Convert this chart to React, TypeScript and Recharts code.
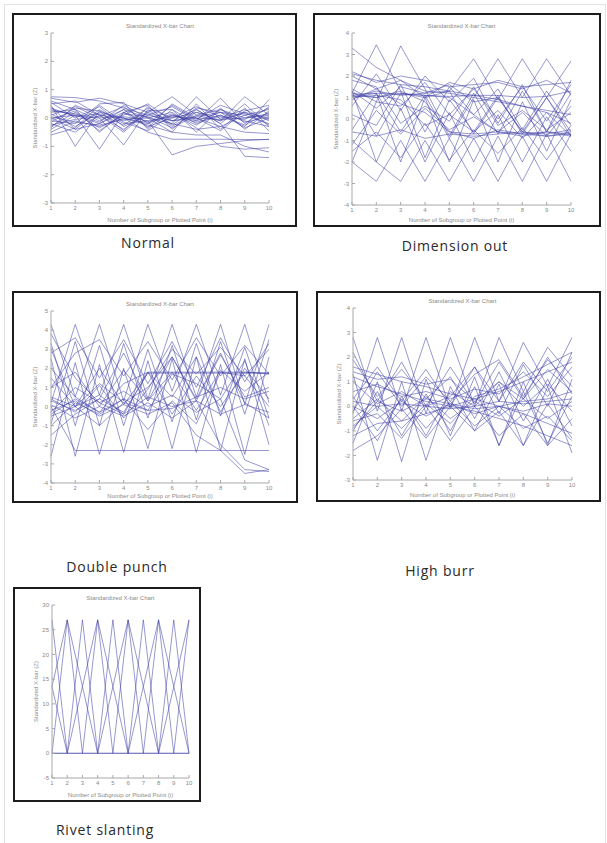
import { LineChart, Line, XAxis, YAxis } from "recharts";

// subgroup numbers on the x axis, shared by every panel
const SUBGROUPS = [1, 2, 3, 4, 5, 6, 7, 8, 9, 10];

const NORMAL_TICKS = [-3, -2, -1, 0, 1, 2, 3];
const normalSeries: number[][] = [
  [0.75, 0.72, 0.6, 0.35, 0.1, -0.1, 0.05, 0.2, 0.1, 0.3],
  [0.7, 0.55, 0.7, 0.5, 0.2, 0.75, 0.1, 0.3, 0.0, 0.15],
  [0.45, -1.0, 0.25, -0.1, 0.15, -0.2, 0.75, -0.05, 0.2, 0.0],
  [0.3, 0.1, -1.1, 0.2, -0.15, 0.1, -0.1, 0.7, -0.2, 0.4],
  [0.1, 0.4, 0.0, -0.95, 0.3, -0.3, 0.2, -0.1, 0.75, 0.1],
  [-0.1, -0.2, 0.5, 0.55, -0.4, 0.3, -0.2, 0.1, -0.3, 0.65],
  [-0.3, 0.2, -0.35, 0.1, 0.5, -0.1, 0.0, -0.3, 0.1, -0.2],
  [0.0, -0.4, 0.3, -0.2, -0.1, -1.3, -1.0, -0.9, -0.8, -0.75],
  [-0.5, -0.1, -0.3, 0.0, -0.5, -0.75, -0.75, -0.75, -0.76, -0.76],
  [0.2, 0.3, -0.1, 0.3, 0.0, 0.2, -0.35, -1.0, -1.1, -1.05],
  [-0.2, -0.5, 0.1, -0.4, 0.2, -0.1, 0.3, -0.2, -1.35, -1.4],
  [0.55, 0.0, 0.4, -0.3, 0.1, 0.4, -0.1, 0.2, -0.1, -0.3],
  [-0.4, 0.1, -0.2, 0.2, -0.3, 0.0, 0.2, 0.0, 0.3, -0.1],
  [0.15, -0.3, 0.2, 0.0, -0.2, 0.15, -0.25, 0.3, -0.15, 0.05],
  [-0.05, 0.25, -0.45, 0.15, 0.05, -0.35, 0.1, -0.1, 0.2, -0.25],
  [0.35, 0.05, 0.15, -0.25, 0.35, 0.0, 0.4, 0.05, -0.05, 0.35],
  [-0.25, -0.05, 0.05, 0.4, -0.2, 0.45, -0.05, 0.45, 0.15, -0.05],
  [0.05, -0.15, -0.25, -0.05, 0.0, -0.2, -0.4, -0.3, -0.5, -0.55],
  [-0.6, -0.35, 0.45, -0.15, -0.45, 0.1, -0.15, 0.1, -0.25, 0.2],
  [0.25, 0.15, -0.15, 0.45, 0.0, -0.5, 0.5, -0.4, 0.35, -0.45],
  [0.6, 0.3, -0.5, 0.2, 0.45, -0.4, 0.3, -0.2, 0.5, -0.3],
  [-0.35, 0.45, 0.1, -0.5, 0.25, 0.3, -0.5, 0.35, -0.4, 0.25],
  [0.0, 0.1, 0.0, 0.05, -0.1, 0.05, 0.0, -0.05, 0.0, 0.1],
  [0.4, -0.4, -0.2, 0.3, -0.35, 0.5, 0.0, -0.45, 0.25, 0.45],
  [-0.15, 0.35, 0.25, -0.45, 0.4, -0.25, 0.35, 0.2, -0.35, 0.0],
  [0.5, 0.6, 0.1, 0.0, -0.25, -0.5, -0.6, -0.6, -1.0, -1.2],
];

const DIMENSION_TICKS = [-4, -3, -2, -1, 0, 1, 2, 3, 4];
const dimensionSeries: number[][] = [
  [3.3, 2.4, 1.8, 1.3, 1.2, 1.0, 0.8, 0.6, 0.4, 0.2],
  [1.2, 3.45, 1.3, -1.8, 0.9, -0.6, 1.1, -0.7, 1.0, -0.8],
  [-2.0, 0.8, 3.4, 1.4, -0.8, 1.2, -0.7, 1.3, -0.6, 1.2],
  [1.1, -0.8, 1.2, 1.0, 1.3, 2.8, 0.9, 2.8, 1.0, 2.7],
  [1.0, 1.2, -0.6, 1.1, -0.9, 1.0, 2.8, 1.0, 2.8, 1.1],
  [-2.0, -2.9, -1.0, -2.9, -0.9, -2.9, -0.8, -2.9, -0.7, -2.9],
  [-1.0, -2.0, -2.9, -1.0, -2.9, -0.9, -2.9, -0.8, -2.9, -0.7],
  [1.3, -2.0, 0.5, -2.0, 0.3, -2.0, 0.2, -2.0, 0.1, -1.5],
  [-0.5, 1.2, -2.0, 1.0, -2.0, 0.9, -2.0, 0.8, -1.5, 0.9],
  [1.2, 1.0, 1.3, 0.8, -0.6, -0.7, -0.6, -0.8, -0.6, -0.7],
  [1.0, 1.3, 1.1, 1.2, 1.3, -0.7, 1.0, -0.6, 1.0, -0.6],
  [2.0, 1.4, 1.8, 1.0, 1.7, 1.4, 1.8, 1.5, 1.6, 1.7],
  [2.1, 1.8, 1.6, 1.5, 1.3, 1.1, 0.9, 0.6, 0.3, -0.2],
  [1.8, 1.5, -0.2, 0.6, -0.1, 1.5, -0.3, 0.4, -0.5, 0.3],
  [0.2, -0.3, 1.6, -0.6, 1.5, 0.2, 1.4, -0.5, 1.3, -0.3],
  [-1.2, 0.4, -0.7, 0.5, -0.5, 0.1, -0.6, 0.3, -0.8, 0.6],
  [1.4, 0.8, 0.6, 1.7, 0.2, 1.4, 0.0, 1.5, -0.1, 1.6],
  [-0.6, -0.8, -0.5, -0.9, -0.7, -0.8, -0.7, -0.6, -0.8, -0.7],
  [1.15, 1.2, 1.15, 1.1, 1.05, 1.1, 1.1, 1.0, 1.05, 1.3],
  [0.6, 2.1, 0.4, 2.0, 0.8, 1.9, -0.2, 1.6, -0.6, 1.8],
  [1.1, 1.0, 1.2, 1.1, 1.0, 0.2, -0.6, -0.7, -0.8, -0.6],
  [0.9, 1.4, 0.7, 0.3, -0.6, -0.9, -0.5, -0.7, -0.6, -0.8],
  [1.3, 0.5, 1.5, 1.2, 1.6, 0.8, 1.0, -0.6, -0.7, -0.5],
  [-1.5, -0.6, -1.8, -0.2, -1.9, -0.5, -1.6, -0.4, -1.9, -0.3],
  [2.2, 1.7, 2.0, 1.8, 1.5, 1.6, 1.7, 1.4, 1.8, 1.2],
  [1.0, 1.1, 0.9, -0.3, 0.2, -0.6, 0.4, -0.9, 0.3, -0.8],
];

const PUNCH_TICKS = [-4, -3, -2, -1, 0, 1, 2, 3, 4, 5];
const punchSeries: number[][] = [
  [4.3, 0.5, 4.3, 0.3, 4.3, 0.8, 4.3, 0.6, 4.3, 0.2],
  [0.2, 4.3, 0.6, 4.3, 0.4, 4.3, 0.5, 4.3, 0.1, 4.3],
  [3.3, -1.0, 3.2, -1.0, 3.0, -0.8, 3.3, -0.5, 3.1, -0.6],
  [-0.9, 3.4, -1.0, 3.3, -0.6, 3.2, -0.7, 3.4, -0.4, 3.5],
  [2.5, -2.6, 2.2, -2.4, 2.4, -2.2, 2.6, -2.3, 2.5, -2.0],
  [-2.6, 2.3, -2.5, 2.0, -2.2, 2.5, -2.4, 2.2, -2.5, 2.6],
  [0.3, -0.2, 0.4, -0.3, 1.75, 1.75, 1.75, 1.75, 1.75, 1.75],
  [-0.4, 0.4, -0.3, 1.2, 1.8, 1.8, 1.8, 1.8, 1.8, 1.7],
  [0.0, -2.3, -2.3, -2.3, -2.3, -2.3, -2.3, -2.3, -2.3, -2.3],
  [1.5, 0.0, 1.2, 0.2, 1.0, 2.6, 0.3, 2.7, 0.5, 1.0],
  [-0.2, 0.3, -0.5, 0.1, -0.4, 0.2, -1.5, -2.3, -3.5, -3.3],
  [0.5, 0.0, 0.6, -0.4, 0.5, 0.0, 0.3, -2.0, -3.3, -3.4],
  [2.8, 3.6, 1.5, 3.5, 1.2, 3.4, 1.0, 3.6, 1.3, 3.3],
  [1.0, 2.8, 3.5, 1.6, 3.4, 1.4, 3.6, 1.6, 3.2, 1.7],
  [-0.5, 0.0, -1.0, 0.2, -0.2, -0.1, 0.5, 1.0, 0.4, 0.8],
  [0.1, -0.6, 0.0, -0.5, 0.2, -0.6, 0.3, -0.4, 0.1, -0.3],
  [-1.5, -0.4, 0.4, 2.8, 0.3, 2.6, 0.4, 2.8, 0.2, -0.6],
  [3.8, 1.5, 0.2, -0.4, 1.8, 0.5, 2.6, -0.3, 2.0, 0.4],
  [1.0, 1.8, 0.0, 1.9, 0.3, 1.8, -0.2, 1.9, 0.8, 1.8],
  [0.4, -0.3, 1.1, -0.6, 0.9, 3.0, 1.7, 3.1, 1.6, 3.0],
  [-1.0, 0.2, -0.4, 0.4, -1.2, 0.3, -0.9, 1.8, 1.6, 0.0],
  [2.0, 0.5, -0.3, 0.4, -0.2, 1.7, 1.2, 0.4, 2.4, -1.0],
  [-0.3, 1.0, 0.2, 0.8, 0.0, 0.6, -0.3, 0.4, -2.8, -3.3],
  [3.0, 0.0, 2.0, 0.1, 1.8, -0.4, 1.6, 0.0, 1.8, 1.75],
];

const BURR_TICKS = [-3, -2, -1, 0, 1, 2, 3, 4];
const burrSeries: number[][] = [
  [2.8, -0.2, 2.8, -0.3, 2.8, 0.0, 2.8, 0.6, 2.4, 1.2],
  [-0.3, 2.8, -0.2, 2.8, -0.1, 2.8, 0.2, 2.6, 0.8, 2.8],
  [1.3, -2.2, 1.0, -2.2, 0.8, -1.0, 0.9, -1.6, 0.8, -1.9],
  [-1.5, 1.0, -2.25, 1.1, -1.2, 1.2, -1.6, 1.0, -1.6, 1.1],
  [1.6, 1.3, 1.0, 0.8, 0.5, 0.3, 0.0, -0.3, -0.7, -1.1],
  [1.4, 1.1, 1.2, 0.9, 1.1, 0.2, 1.0, 0.0, 0.9, -0.2],
  [-0.8, 0.0, -0.9, 0.1, -0.7, 0.4, 0.7, 1.2, 1.7, 2.2],
  [-1.2, -0.7, -0.6, -0.3, 0.0, 0.3, 0.6, 1.0, 1.4, 1.8],
  [0.0, -0.5, 0.2, -0.4, 0.1, -0.3, 0.0, -0.2, 0.1, 0.0],
  [-0.5, 0.3, -0.6, 0.4, -0.5, 0.2, -0.4, 0.3, -0.5, 0.2],
  [0.4, -1.0, 0.3, -0.9, 0.2, -0.8, 0.0, -0.9, -0.4, -1.4],
  [-1.0, 0.6, -1.2, 0.5, -1.0, 0.8, -1.6, 0.6, -1.5, 0.4],
  [1.0, 0.1, 0.6, 0.0, 0.4, 1.6, 0.2, 1.8, 0.6, 2.0],
  [-0.2, 1.4, 0.0, 1.2, 0.2, 1.3, 1.9, 0.4, 1.9, 0.8],
  [0.6, 0.9, 0.4, 0.6, 0.3, 0.7, 0.5, 1.4, 0.4, 1.6],
  [-1.8, -1.2, -0.1, -1.3, 0.0, -1.0, -0.2, -1.6, 0.1, -1.3],
  [0.2, 0.0, 0.1, 0.0, -0.1, 0.0, 0.2, 0.1, 0.2, 0.3],
  [1.9, 0.4, 1.5, 0.3, 1.2, -0.5, 1.4, -0.6, 1.1, -0.8],
  [0.3, 1.6, 0.2, 1.5, 0.0, 1.6, -0.3, 1.7, 0.0, 2.2],
  [-0.6, -0.3, -1.3, 0.0, -1.4, 0.0, -1.2, -0.3, -1.6, -0.5],
  [1.2, 0.8, 0.5, 0.2, 0.0, -0.2, -0.5, -0.8, -1.2, -1.6],
  [0.0, -1.4, 0.4, -1.2, 0.6, 0.0, 1.0, 0.3, 1.5, 0.6],
  [2.2, 0.2, 1.8, 0.0, 1.6, 0.1, 1.8, 0.3, 2.0, 0.5],
  [-0.9, 0.2, -0.2, 0.3, 0.1, -0.1, 0.0, 0.2, 0.3, 0.6],
];

const RIVET_TICKS = [-5, 0, 5, 10, 15, 20, 25, 30];
const rivetSeries: number[][] = [
  [0, 27, 0, 27, 0, 27, 0, 27, 0, 27],
  [27, 0, 27, 0, 27, 0, 27, 0, 27, 0],
  [13.5, 27, 13.5, 0, 13.5, 27, 13.5, 0, 13.5, 27],
  [13.5, 0, 13.5, 27, 13.5, 0, 13.5, 27, 13.5, 0],
  [0, 0, 0, 0, 0, 0, 0, 0, 0, 0],
  [0, 0, 0, 0, 0, 0, 0, 0, 0, 0],
];

function toRows(series: number[][]) {
  return SUBGROUPS.map((x, i) => {
    const row: Record<string, number> = { x };
    series.forEach((s, j) => {
      row[`s${j}`] = s[i];
    });
    return row;
  });
}

const AXIS_GREY = "#a8a8a8";
const TEXT_GREY = "#8a8a8a";
const LINE_BLUE = "#4040a6";
const tickFont = { fontSize: 6, fill: TEXT_GREY, fontFamily: "Liberation Sans, Arial, sans-serif" };

interface PanelProps {
  left: number;
  top: number;
  width: number;
  height: number;
  pad: { l: number; r: number; t: number; b: number };
  series: number[][];
  yTicks: number[];
  caption: string;
  captionX: number;
  captionY: number;
}

function ChartPanel({ left, top, width, height, pad, series, yTicks, caption, captionX, captionY }: PanelProps) {
  const data = toRows(series);
  const yDomain = [yTicks[0], yTicks[yTicks.length - 1]];
  return (
    <>
      <div
        style={{
          position: "absolute",
          left,
          top,
          width,
          height,
          boxSizing: "border-box",
          border: "2px solid #1c1c1c",
          background: "#fff",
        }}
      >
        <div
          style={{
            position: "absolute",
            left: pad.l - 2,
            width: width - pad.l - pad.r,
            top: pad.t - 12,
            fontSize: 6,
            lineHeight: "6px",
            color: TEXT_GREY,
            textAlign: "center",
            fontFamily: "Liberation Sans, Arial, sans-serif",
          }}
        >
          Standardized X-bar Chart
        </div>
        <LineChart
          width={width - 4}
          height={height - 4}
          data={data}
          margin={{ top: pad.t - 2, right: pad.r - 2, bottom: 0, left: 0 }}
        >
          <XAxis
            dataKey="x"
            type="number"
            domain={[1, 10]}
            ticks={SUBGROUPS}
            height={pad.b - 2}
            tick={tickFont}
            tickSize={-3}
            tickMargin={6}
            stroke={AXIS_GREY}
            label={{
              value: "Number of Subgroup or Plotted Point (i)",
              position: "insideBottom",
              offset: 3,
              style: tickFont,
            }}
          />
          <XAxis
            xAxisId="top"
            orientation="top"
            dataKey="x"
            type="number"
            domain={[1, 10]}
            ticks={SUBGROUPS}
            height={0}
            tick={false}
            tickSize={-3}
            stroke={AXIS_GREY}
          />
          <YAxis
            type="number"
            domain={yDomain}
            ticks={yTicks}
            width={pad.l - 2}
            tick={tickFont}
            tickSize={-3}
            tickMargin={6}
            stroke={AXIS_GREY}
            label={{
              value: "Standardized X-bar (Z)",
              angle: -90,
              position: "insideLeft",
              offset: 21,
              style: { ...tickFont, textAnchor: "middle" },
            }}
          />
          <YAxis
            yAxisId="right"
            orientation="right"
            type="number"
            domain={yDomain}
            ticks={yTicks}
            width={0}
            tick={false}
            tickSize={-3}
            stroke={AXIS_GREY}
          />
          {series.map((_, j) => (
            <Line
              key={j}
              dataKey={`s${j}`}
              stroke={LINE_BLUE}
              strokeOpacity={0.6}
              strokeWidth={0.9}
              dot={false}
              isAnimationActive={false}
            />
          ))}
        </LineChart>
      </div>
      <div
        style={{
          position: "absolute",
          left: captionX - 100,
          width: 200,
          top: captionY - 9,
          textAlign: "center",
          fontSize: 14,
          lineHeight: "18px",
          letterSpacing: 0.8,
          color: "#2a2a2a",
          fontFamily: "Open Sans, sans-serif",
        }}
      >
        {caption}
      </div>
    </>
  );
}

export default function App() {
  return (
    <div
      style={{
        position: "absolute",
        left: 0,
        top: 0,
        width: 607,
        height: 843,
        background: "#fff",
        overflow: "hidden",
      }}
    >
      <div
        style={{
          position: "absolute",
          left: 4,
          top: 4,
          width: 600,
          height: 845,
          border: "1px solid #e2e2e2",
        }}
      />
      <ChartPanel
        left={12}
        top={13}
        width={285}
        height={214}
        pad={{ l: 39, r: 28, t: 20, b: 24 }}
        series={normalSeries}
        yTicks={NORMAL_TICKS}
        caption="Normal"
        captionX={148}
        captionY={243}
      />
      <ChartPanel
        left={313}
        top={13}
        width={288}
        height={214}
        pad={{ l: 39, r: 30, t: 20, b: 22 }}
        series={dimensionSeries}
        yTicks={DIMENSION_TICKS}
        caption="Dimension out"
        captionX={455}
        captionY={246}
      />
      <ChartPanel
        left={12}
        top={291}
        width={286}
        height={212}
        pad={{ l: 39, r: 29, t: 20, b: 20 }}
        series={punchSeries}
        yTicks={PUNCH_TICKS}
        caption="Double punch"
        captionX={117}
        captionY={567}
      />
      <ChartPanel
        left={316}
        top={291}
        width={285}
        height={211}
        pad={{ l: 37, r: 29, t: 17, b: 22 }}
        series={burrSeries}
        yTicks={BURR_TICKS}
        caption="High burr"
        captionX={440}
        captionY={571}
      />
      <ChartPanel
        left={13}
        top={587}
        width={188}
        height={215}
        pad={{ l: 39, r: 12, t: 18, b: 24 }}
        series={rivetSeries}
        yTicks={RIVET_TICKS}
        caption="Rivet slanting"
        captionX={105}
        captionY={830}
      />
    </div>
  );
}
